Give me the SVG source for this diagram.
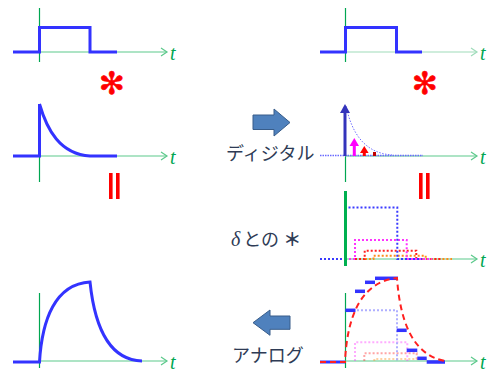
<svg xmlns="http://www.w3.org/2000/svg" width="494" height="372" viewBox="0 0 494 372">
<style>
.ax{stroke:#5cc98b;stroke-width:1.2;fill:none}
.vx{stroke:#00a651;stroke-width:1.2;fill:none}
.sig{stroke:#3333ff;stroke-width:3;fill:none;stroke-linejoin:miter}
.t{font-family:"Liberation Serif",serif;font-style:italic;font-size:20px;fill:#00a651}
.lab{font-family:"Noto Sans CJK JP",sans-serif;font-size:18px;fill:#2e3b55}
.ast{font-family:"DejaVu Sans",sans-serif;font-size:31px;font-weight:bold;fill:#ff0000;stroke:#ff0000;stroke-width:0.6;text-anchor:middle}
.eq{fill:#ff0000}
.dot{fill:none;stroke-width:2;stroke-dasharray:2 2}
.blk{fill:#4f81bd;stroke:#385d8a;stroke-width:1}
</style>
<g id="connectors">
<polygon class="blk" points="253,115 274,115 274,109 290,122.5 274,136 274,129.5 253,129.5"/>
<polygon class="blk" points="290,316 270,316 270,310 253,322.7 270,335.3 270,329.3 290,329.3"/>
</g>
<g id="pulse-left">
<line class="vx" x1="39.5" y1="8" x2="39.5" y2="62"/>
<line class="ax" x1="39" y1="52" x2="167" y2="52"/>
<polyline class="ax" points="161,48 167,52 161,56"/>
<polyline class="sig" points="13,52 39.5,52 39.5,27.5 90,27.5 90,52 117,52"/>
<text class="t" x="170" y="60">t</text>
</g>
<g id="star-left"><text class="ast" x="112" y="94">✻</text></g>
<g id="impulse-left">
<line class="vx" x1="39.5" y1="104" x2="39.5" y2="182"/>
<line class="ax" x1="39" y1="156" x2="167" y2="156"/>
<polyline class="ax" points="161,152 167,156 161,160"/>
<path class="sig" d="M13,156 H39.5 V104 M39.5,104 C47,130 60,154 90,156 H117"/>
<text class="t" x="170" y="164">t</text>
</g>
<g id="eq-left"><rect class="eq" x="109" y="173" width="3.6" height="26"/><rect class="eq" x="116" y="173" width="3.6" height="26"/></g>
<g id="output-left">
<line class="vx" x1="39.5" y1="293" x2="39.5" y2="368"/>
<line class="ax" x1="39" y1="361" x2="167" y2="361"/>
<polyline class="ax" points="161,357 167,361 161,365"/>
<path class="sig" d="M13,362 H39.5 C42,320 55,284 90,282 C95,330 110,360 142,361"/>
<text class="t" x="170" y="369">t</text>
</g>
<g id="pulse-right">
<line class="vx" x1="345.5" y1="8" x2="345.5" y2="62"/>
<line class="ax" x1="345" y1="52" x2="477" y2="52" style="stroke:#9fdcba"/>
<polyline class="ax" points="471,48 477,52 471,56" style="stroke:#9fdcba"/>
<polyline class="sig" points="320,52 345.5,52 345.5,27.5 396.5,27.5 396.5,52 422,52"/>
<text class="t" x="480" y="60">t</text>
</g>
<g id="star-right"><text class="ast" x="425" y="94">✻</text></g>
<g id="digital">
<line class="vx" x1="345.5" y1="156" x2="345.5" y2="182"/>
<line class="ax" x1="345" y1="156" x2="477" y2="156"/>
<polyline class="ax" points="471,152 477,156 471,160"/>
<line x1="320" y1="155.5" x2="423" y2="155.5" stroke="#6a6aff" stroke-width="1.5" stroke-dasharray="1.5 1"/>
<path d="M346,106 C352,134 365,153 392,155" fill="none" stroke="#7070ff" stroke-width="1" stroke-dasharray="1.5 1.5"/>
<line x1="345" y1="156" x2="345" y2="113" stroke="#3333bb" stroke-width="3"/>
<polygon points="340,113 350,113 345,104" fill="#3333bb"/>
<line x1="354.3" y1="156" x2="354.3" y2="144" stroke="#ff00ff" stroke-width="3"/>
<polygon points="349.5,146 359,146 354.3,138" fill="#ff00ff"/>
<polygon points="360,153 368.6,153 364.3,146" fill="#ff0000"/>
<line x1="364.3" y1="156" x2="364.3" y2="152" stroke="#ff0000" stroke-width="3"/>
<rect x="373" y="152" width="3" height="4" fill="#c00000"/>
<text class="t" x="480" y="164">t</text>
<text class="lab" x="226" y="160" font-size="18">ディジタル</text>
</g>
<g id="eq-right"><rect class="eq" x="419" y="173" width="3.6" height="26"/><rect class="eq" x="426" y="173" width="3.6" height="26"/></g>
<g id="delta">
<line class="ax" x1="345" y1="259" x2="477" y2="259"/>
<polyline class="ax" points="471,255 477,259 471,263"/>
<polyline class="dot" stroke="#ff8c1a" points="365,259 373.5,259 373.5,255.7 425.7,255.7 425.7,259 452,259"/>
<polyline class="dot" stroke="#ff2020" points="355,259 364.7,259 364.7,250.7 416.3,250.7 416.3,259 442,259"/>
<polyline class="dot" stroke="#ff33ff" points="345,259 355,259 355,240 406.7,240 406.7,259 432,259"/>
<polyline class="dot" stroke="#3a3aff" points="320,259 345,259 345,207.5 397.3,207.5 397.3,259 422,259"/>
<line x1="345.5" y1="191" x2="345.5" y2="266" stroke="#00b050" stroke-width="3"/>
<text class="t" x="480" y="267">t</text>
<text class="lab" x="231" y="246"><tspan font-family="Liberation Serif,serif" font-style="italic" font-size="20">δ</tspan><tspan dx="3">との</tspan><tspan dx="4" font-weight="bold">＊</tspan></text>
</g>
<g id="analog">
<line class="vx" x1="345.5" y1="293" x2="345.5" y2="368"/>
<line class="ax" x1="345" y1="361" x2="477" y2="361"/>
<polyline class="ax" points="471,357 477,361 471,365"/>
<g opacity="0.4">
<polyline class="dot" stroke="#ff8c1a" stroke-width="1.5" points="374.3,361 374.3,359 426.7,359 426.7,361"/>
<polyline class="dot" stroke="#ff2020" stroke-width="1.5" points="364.3,361 364.3,353.3 416.7,353.3 416.7,361"/>
<polyline class="dot" stroke="#ff33ff" stroke-width="1.5" points="355,361 355,342.3 407.3,342.3 407.3,361"/>
<polyline class="dot" stroke="#3a3aff" stroke-width="1.5" points="345,310.3 397,310.3 397,361"/>
</g>
<line x1="320" y1="362" x2="345" y2="362" stroke="#3333ff" stroke-width="3"/>
<g stroke="#3333ff" stroke-width="3.5">
<line x1="345.5" y1="310.3" x2="355.5" y2="310.3"/>
<line x1="355" y1="291.3" x2="365" y2="291.3"/>
<line x1="365" y1="282.3" x2="375" y2="282.3"/>
<line x1="375" y1="278.3" x2="398" y2="278.3"/>
<line x1="396.7" y1="330.3" x2="406.7" y2="330.3"/>
<line x1="406.7" y1="350.3" x2="417.3" y2="350.3"/>
<line x1="417.3" y1="358.3" x2="426.7" y2="358.3"/>
<line x1="426.7" y1="362" x2="445" y2="362"/>
</g>
<path d="M320,362 H345 C347,318 360,282 397,278 C400,320 412,355 445,361" fill="none" stroke="#ff2020" stroke-width="2" stroke-dasharray="6 4"/>
<text class="t" x="480" y="369">t</text>
<text class="lab" x="232" y="362" font-size="19">アナログ</text>
</g>
</svg>
